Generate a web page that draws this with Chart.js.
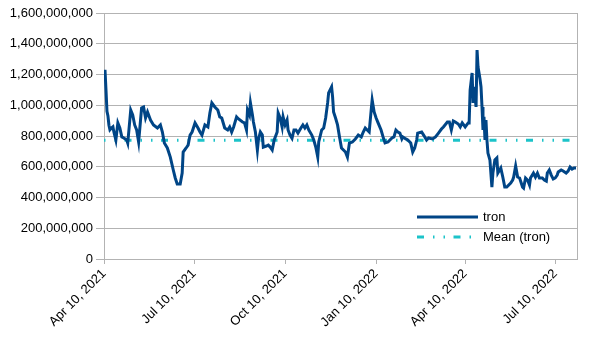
<!DOCTYPE html>
<html lang="en">
<head>
  <meta charset="UTF-8" />
  <title>tron</title>
  <script src="https://cdn.jsdelivr.net/npm/chart.js"></script>
  <style>
    body {
      margin: 0;
      background: #ffffff;
    }
  </style>
</head>
<body>
  <canvas id="tronChart" width="605" height="340"></canvas>

  <script>
    // days since Apr 10, 2021
    const days = [
      0, 1, 2, 3, 4, 5, 6, 8, 9, 10, 12, 14, 16, 18, 20, 23, 24, 27, 29, 31, 33, 35, 38, 40, 42, 44, 47, 50, 54, 57,
      59, 61, 64, 67, 70, 72, 74, 77, 79, 80, 83, 85, 87, 89, 92, 95, 97, 99, 102, 105, 107, 109, 112, 115, 117, 119, 122, 125, 127, 129,
      131, 134, 136, 140, 142, 144, 145, 147, 148, 150, 151, 153, 155, 156, 158, 160, 161, 164, 166, 168, 170, 172, 175, 176, 178, 180, 181, 183, 185, 186,
      188, 190, 192, 194, 196, 199, 201, 203, 205, 207, 210, 212, 214, 216, 217, 220, 222, 224, 226, 227, 230, 231, 232, 234, 236, 238, 240, 242, 244, 246,
      248, 251, 254, 257, 260, 262, 264, 266, 268, 270, 271, 273, 275, 277, 280, 282, 284, 287, 291, 293, 295, 297, 299, 301, 302, 305, 307, 310, 312, 314,
      316, 317, 321, 323, 326, 328, 332, 335, 338, 341, 343, 347, 349, 351, 353, 355, 358, 360, 362, 365, 368, 369, 370, 372, 373, 374, 376, 377, 378, 380,
      381, 382, 383, 384, 385, 386, 387, 388, 390, 392, 393, 395, 397, 398, 401, 403, 405, 407, 411, 413, 414, 416, 418, 420, 423, 424, 426, 428, 430, 431,
      434, 436, 438, 440, 443, 445, 447, 448, 450, 452, 454, 456, 458, 459, 462, 464, 467, 469, 471, 473, 475, 477
    ];

    // tron, in millions
    const tron = [
      1180, 1230, 1100, 960, 930, 870, 840, 855, 860, 826, 774, 885, 852, 794, 787, 774, 754, 969, 937, 872, 839, 761, 982, 989, 917, 956, 904, 872, 852, 872,
      826, 754, 722, 663, 579, 527, 488, 488, 559, 696, 722, 741, 806, 826, 885, 852, 826, 806, 872, 859, 950, 1015, 989, 969, 924, 917, 852, 839, 859, 826,
      859, 924, 911, 891, 885, 839, 969, 937, 1015, 937, 891, 826, 709, 774, 826, 806, 728, 735, 741, 728, 709, 774, 826, 950, 917, 859, 924, 872, 904, 839,
      806, 785, 839, 839, 819, 852, 872, 852, 872, 839, 806, 774, 728, 663, 761, 839, 852, 917, 1015, 1080, 1119, 1054, 956, 917, 872, 794, 722, 709, 696, 663,
      754, 761, 781, 806, 794, 826, 852, 839, 826, 969, 1034, 956, 917, 885, 839, 794, 755, 761, 787, 794, 839, 826, 819, 781, 794, 781, 774, 754, 696, 722,
      774, 819, 826, 806, 774, 787, 781, 794, 819, 845, 859, 891, 891, 839, 898, 891, 878, 859, 885, 859, 885, 885, 1099, 1210, 1015, 1119, 989, 1359, 1249, 1170,
      1119, 989, 839, 924, 774, 904, 774, 689, 644, 468, 559, 644, 657, 559, 592, 533, 468, 468, 494, 514, 533, 605, 533, 527, 468, 462, 527, 514, 481, 527,
      559, 533, 559, 527, 527, 514, 507, 559, 579, 546, 520, 527, 546, 566, 579, 572, 559, 572, 598, 585, 592, 592
    ];

    const meanTron = 772;

    const tickDays = [0, 91, 183, 275, 365, 456];
    const tickLabels = ["Apr 10, 2021", "Jul 10, 2021", "Oct 10, 2021", "Jan 10, 2022", "Apr 10, 2022", "Jul 10, 2022"];

    const gridColor = "#b3b3b3";
    const font = { family: "'Liberation Sans', Arial, sans-serif", size: 13 };

    // legend inside the plot, plus the right frame line
    const insideLegend = {
      id: "insideLegend",
      afterDraw(chart) {
        const ctx = chart.ctx;
        const area = chart.chartArea;
        ctx.save();
        ctx.strokeStyle = gridColor;
        ctx.lineWidth = 1;
        ctx.beginPath();
        ctx.moveTo(area.right + 0.5, area.top);
        ctx.lineTo(area.right + 0.5, area.bottom);
        ctx.stroke();

        const x0 = area.right - 160;
        const x1 = area.right - 99;
        const rows = [
          { y: area.bottom - 42, ds: chart.data.datasets[0] },
          { y: area.bottom - 22, ds: chart.data.datasets[1] }
        ];
        ctx.font = font.size + "px " + font.family;
        ctx.textBaseline = "middle";
        rows.forEach(r => {
          ctx.strokeStyle = r.ds.borderColor;
          ctx.lineWidth = 3;
          ctx.setLineDash(r.ds.borderDash || []);
          ctx.lineDashOffset = 0;
          ctx.beginPath();
          ctx.moveTo(x0, r.y);
          ctx.lineTo(x1, r.y);
          ctx.stroke();
          ctx.setLineDash([]);
          ctx.fillStyle = "#000";
          ctx.fillText(r.ds.label, x1 + 5, r.y);
        });
        ctx.restore();
      }
    };

    new Chart(document.getElementById("tronChart"), {
      type: "line",
      data: {
        datasets: [
          {
            label: "tron",
            data: days.map((d, i) => ({ x: d, y: tron[i] * 1e6 })),
            borderColor: "#004586",
            borderWidth: 3,
            pointRadius: 0,
            tension: 0
          },
          {
            label: "Mean (tron)",
            data: [{ x: days[0], y: meanTron * 1e6 }, { x: days[days.length - 1], y: meanTron * 1e6 }],
            borderColor: "#1cc3c9",
            borderWidth: 3,
            borderDash: [7, 9, 1.5, 9, 1.5, 8.5],
            borderDashOffset: 16,
            borderCapStyle: "butt",
            pointRadius: 0
          }
        ]
      },
      options: {
        responsive: false,
        animation: false,
        layout: { padding: { top: 13, right: 28, left: 0, bottom: 0 } },
        plugins: {
          legend: { display: false },
          tooltip: { enabled: false }
        },
        scales: {
          x: {
            type: "linear",
            min: 0,
            max: 478,
            afterBuildTicks: scale => {
              scale.ticks = tickDays.map(v => ({ value: v }));
            },
            afterFit: scale => { scale.height = 81; },
            grid: { drawOnChartArea: false, tickLength: 5, color: gridColor },
            border: { color: gridColor },
            ticks: {
              font,
              color: "#000",
              maxRotation: 45,
              minRotation: 45,
              padding: 2,
              callback: value => tickLabels[tickDays.indexOf(value)]
            }
          },
          y: {
            min: 0,
            max: 1600000000,
            afterFit: scale => { scale.width = 104; },
            grid: { color: gridColor, tickLength: 8 },
            border: { color: gridColor },
            ticks: {
              stepSize: 200000000,
              font,
              color: "#000",
              padding: 3,
              callback: value => Number(value).toLocaleString("en-US")
            }
          }
        }
      },
      plugins: [insideLegend]
    });
  </script>
</body>
</html>
